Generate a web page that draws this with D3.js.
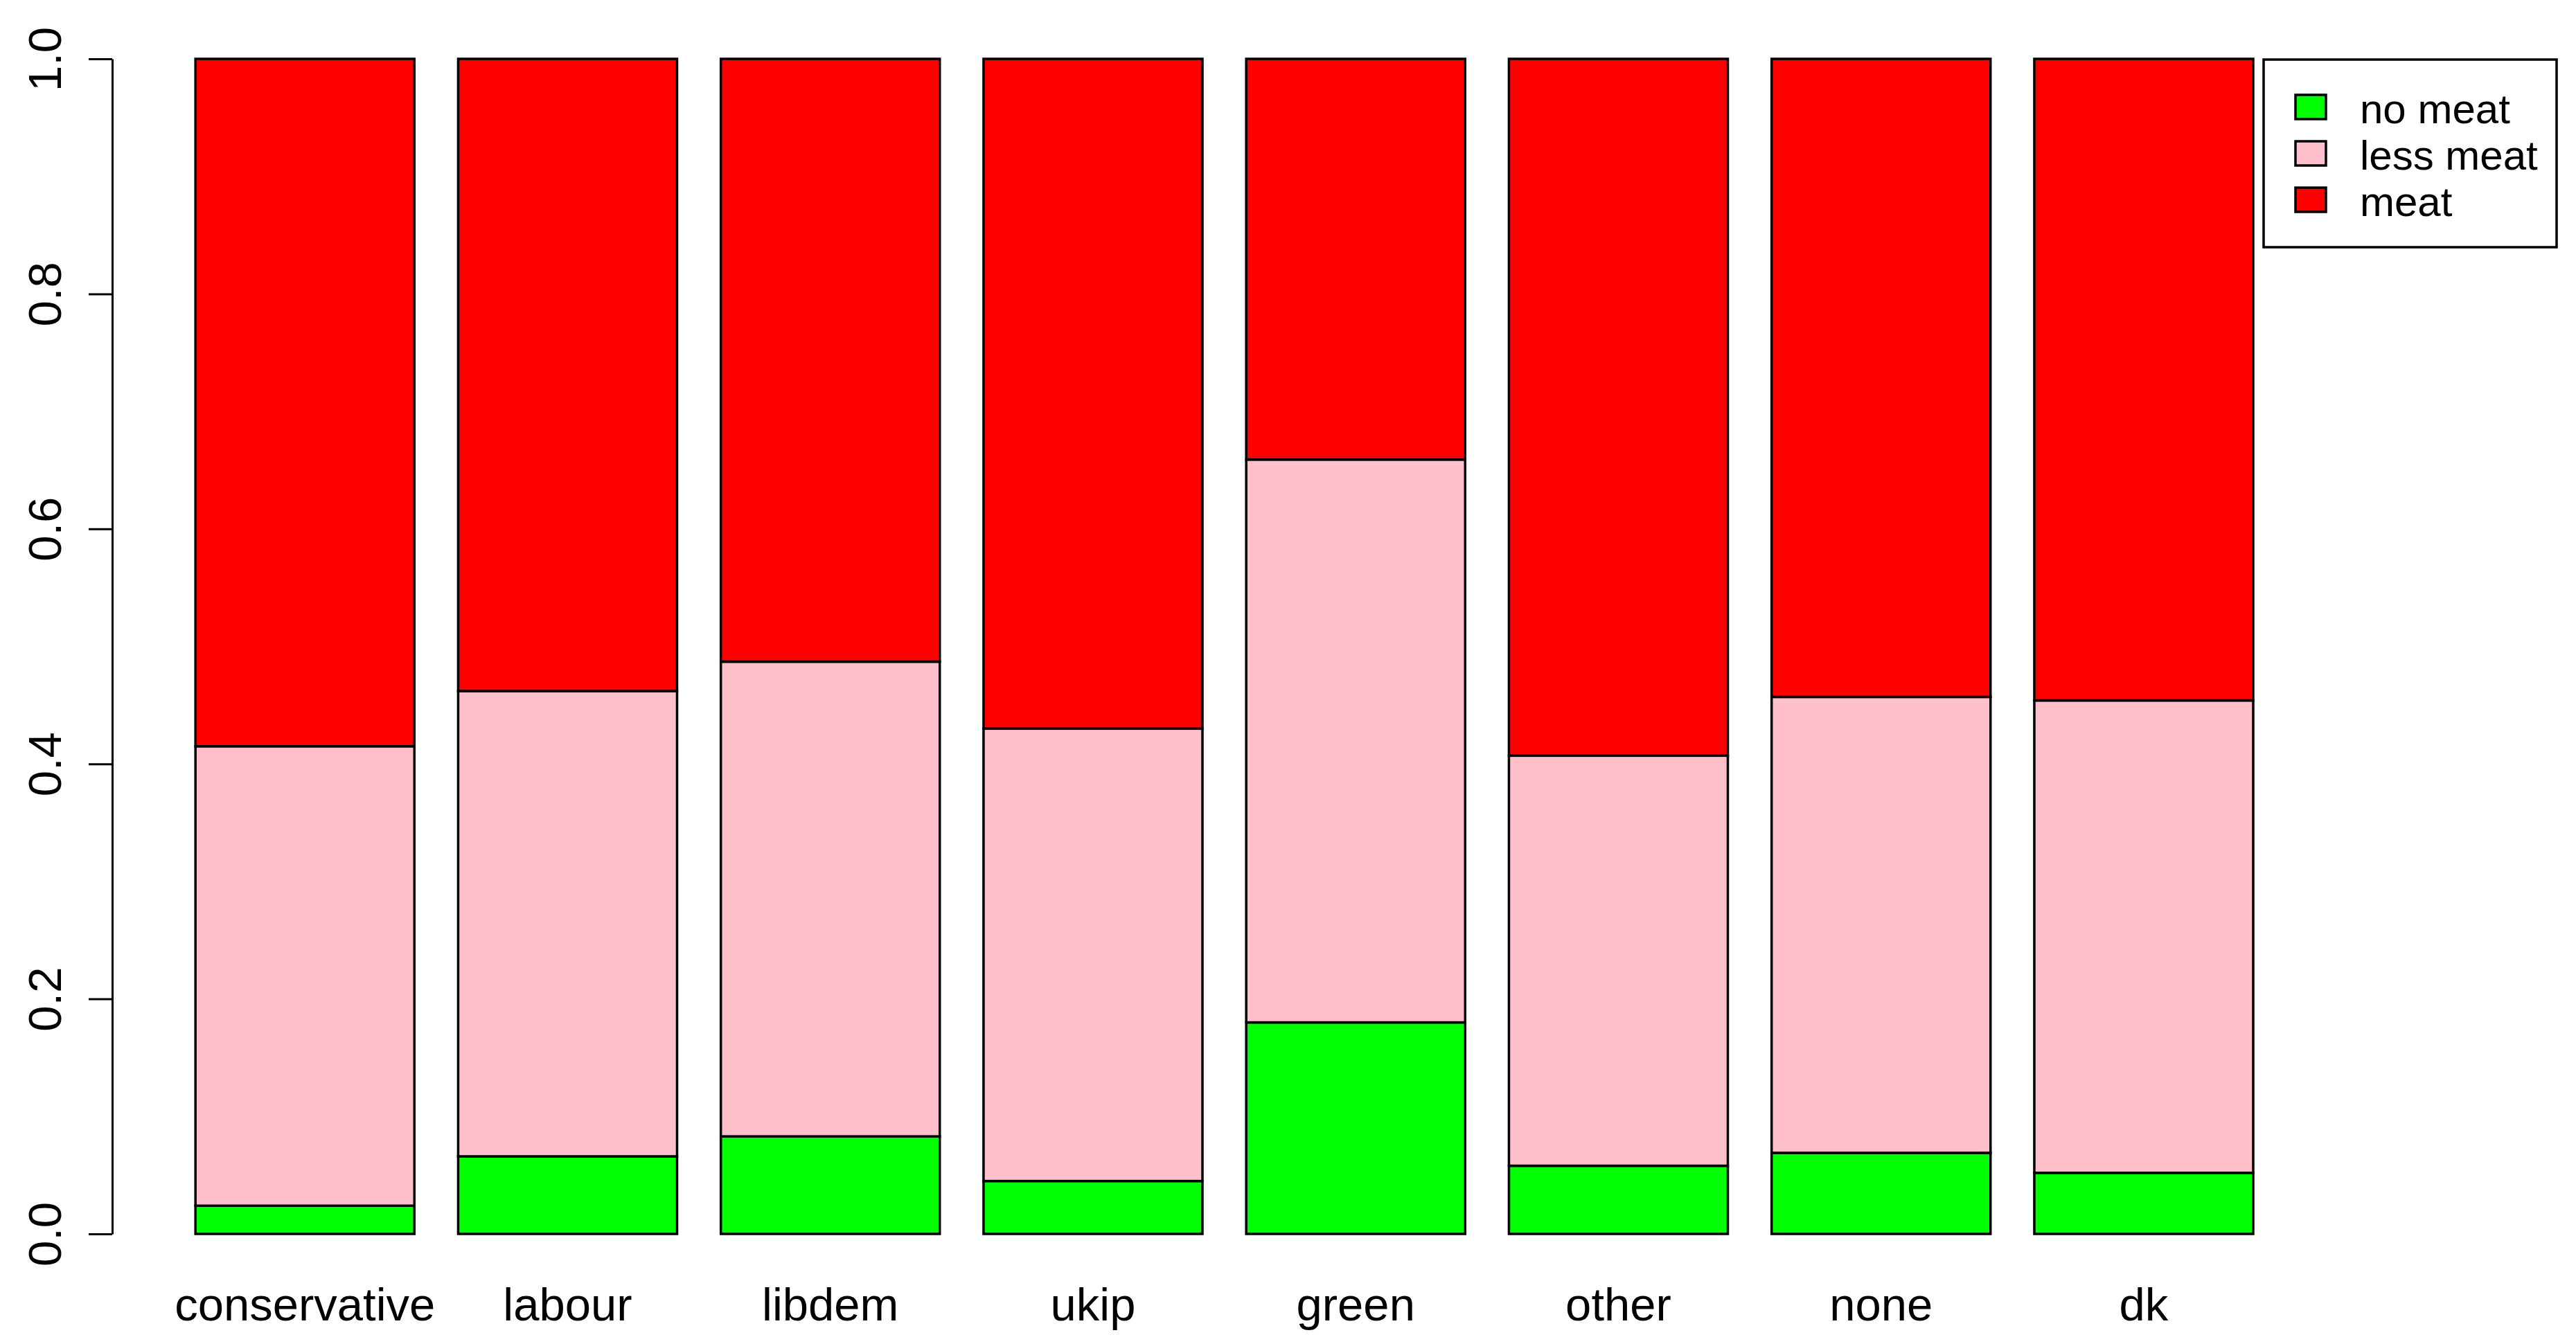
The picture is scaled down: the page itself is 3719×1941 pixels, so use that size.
<!DOCTYPE html>
<html>
<head>
<meta charset="utf-8">
<script src="https://cdn.jsdelivr.net/npm/d3@7"></script>
<style>
  html, body { margin: 0; padding: 0; background: #fff; }
  svg { display: block; }
  text { font-family: "Liberation Sans", Arial, sans-serif; fill: #000; }
</style>
</head>
<body>
<svg id="chart" width="3719" height="1941"></svg>
<script>
// ---- data (proportions) ----
const categories = ["conservative", "labour", "libdem", "ukip", "green", "other", "none", "dk"];
const seriesNames = ["no meat", "less meat", "meat"];
const seriesColors = ["#00ff00", "#ffc0cb", "#ff0000"];
const noMeat   = [0.024, 0.066, 0.083, 0.045, 0.180, 0.058, 0.069, 0.052];
const lessMeat = [0.391, 0.396, 0.404, 0.385, 0.479, 0.349, 0.388, 0.402];
const meat     = [0.585, 0.538, 0.513, 0.570, 0.341, 0.593, 0.543, 0.546];
const yTicks   = [0, 0.2, 0.4, 0.6, 0.8, 1.0];
const yTickLabels = ["0.0", "0.2", "0.4", "0.6", "0.8", "1.0"];

const table = categories.map((c, i) => ({
  cat: c, "no meat": noMeat[i], "less meat": lessMeat[i], "meat": meat[i]
}));

const svg = d3.select("#chart");

const x = d3.scaleBand()
  .domain(categories)
  .range([282.2, 3253])
  .paddingInner(0.2 / 1.2)
  .paddingOuter(0);

const y = d3.scaleLinear().domain([0, 1]).range([1782, 85]);

const stack = d3.stack().keys(seriesNames);
const stacked = stack(table);

// bars
svg.append("g").selectAll("g")
  .data(stacked)
  .join("g")
  .attr("fill", (d, i) => seriesColors[i])
  .selectAll("rect")
  .data(d => d)
  .join("rect")
  .attr("x", d => x(d.data.cat))
  .attr("width", x.bandwidth())
  .attr("y", d => y(d[1]))
  .attr("height", d => y(d[0]) - y(d[1]))
  .attr("stroke", "#000")
  .attr("stroke-width", 3.5);

// y axis
const yAxis = d3.axisLeft(y)
  .tickValues(yTicks)
  .tickFormat((d, i) => yTickLabels[i])
  .tickSize(34)
  .tickSizeOuter(0);

const ya = svg.append("g")
  .attr("transform", "translate(162,0)")
  .call(yAxis);
ya.select(".domain").attr("stroke", "#000").attr("stroke-width", 3);
ya.selectAll(".tick line").attr("stroke", "#000").attr("stroke-width", 3);
ya.selectAll(".tick text")
  .attr("font-size", 67)
  .attr("font-family", "Liberation Sans, Arial, sans-serif")
  .attr("fill", "#000")
  .attr("text-anchor", "middle")
  .attr("dy", null)
  .attr("x", null)
  .attr("transform", "translate(-74,0) rotate(-90)");

// x axis (labels only, no line)
const xAxis = d3.axisBottom(x).tickSize(0).tickSizeOuter(0);
const xa = svg.append("g")
  .attr("transform", "translate(0,1782)")
  .call(xAxis);
xa.select(".domain").remove();
xa.selectAll(".tick text")
  .attr("font-size", 67)
  .attr("font-family", "Liberation Sans, Arial, sans-serif")
  .attr("fill", "#000")
  .attr("dy", null)
  .attr("y", 125);

// legend
const lg = svg.append("g");
lg.append("rect")
  .attr("x", 3268).attr("y", 86)
  .attr("width", 423).attr("height", 271)
  .attr("fill", "#fff").attr("stroke", "#000").attr("stroke-width", 3.5);

const rowY = d3.scalePoint().domain(seriesNames).range([154, 288]);
const items = lg.selectAll("g.item")
  .data(seriesNames)
  .join("g")
  .attr("class", "item")
  .attr("transform", d => `translate(0,${rowY(d)})`);
items.append("rect")
  .attr("x", 3314).attr("y", -17)
  .attr("width", 44).attr("height", 35)
  .attr("fill", (d, i) => seriesColors[i])
  .attr("stroke", "#000").attr("stroke-width", 3.5);
items.append("text")
  .attr("x", 3407).attr("y", 24)
  .attr("font-size", 60)
  .text(d => d);
</script>
</body>
</html>
